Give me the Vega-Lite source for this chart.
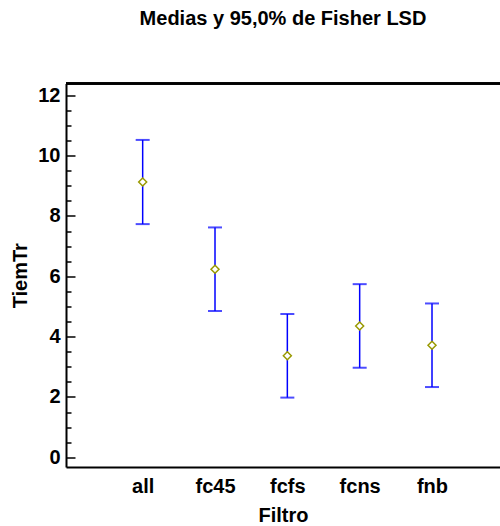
{
  "$schema": "https://vega.github.io/schema/vega-lite/v6.json",
  "width": 434,
  "height": 383.5,
  "autosize": {"type": "none"},
  "padding": {"left": 66, "top": 83.5, "right": 0, "bottom": 59},
  "background": "white",
  "config": {
    "view": {"stroke": null},
    "font": "Liberation Sans",
    "axis": {"labelFont": "Liberation Sans", "titleFont": "Liberation Sans", "labelColor": "black", "titleColor": "black", "labelFontWeight": "bold", "titleFontWeight": "bold", "grid": false}
  },
  "title": {"text": "Medias y 95,0% de Fisher LSD", "font": "Liberation Sans", "fontSize": 20, "fontWeight": "bold", "color": "black", "anchor": "middle", "baseline": "alphabetic", "offset": 37.5},
  "data": {"values": [
    {"Filtro": "all", "mean": 9.125, "lower": 7.73, "upper": 10.52},
    {"Filtro": "fc45", "mean": 6.235, "lower": 4.85, "upper": 7.62},
    {"Filtro": "fcfs", "mean": 3.365, "lower": 1.98, "upper": 4.75},
    {"Filtro": "fcns", "mean": 4.355, "lower": 2.97, "upper": 5.74},
    {"Filtro": "fnb", "mean": 3.715, "lower": 2.33, "upper": 5.1}
  ]},
  "layer": [
    {"mark": {"type": "rule", "color": "#0000ff", "strokeWidth": 1.5},
      "encoding": {
        "x": {"field": "Filtro", "type": "nominal", "sort": null,
          "scale": {"type": "point", "padding": 1.111, "align": 0.53},
          "axis": {"labelAngle": 0, "ticks": false, "domainColor": "black", "domainWidth": 2, "labelFontSize": 20, "labelPadding": 9.5, "titleFontSize": 20, "title": "Filtro", "titlePadding": 9}},
        "y": {"field": "lower", "type": "quantitative",
          "scale": {"domain": [-0.32, 12.39], "nice": false, "zero": false},
          "axis": {"values": [0, 2, 4, 6, 8, 10, 12], "offset": -9, "ticks": true, "tickSize": 9, "tickColor": "black", "tickWidth": 1.5, "domain": false, "labelFontSize": 20, "labelPadding": 6, "title": "TiemTr", "titleFontSize": 20, "titlePadding": 7, "orient": "left"}},
        "y2": {"field": "upper"}
      }},
    {"mark": {"type": "tick", "color": "#0000ff", "thickness": 2, "size": 14},
      "encoding": {
        "x": {"field": "Filtro", "type": "nominal", "sort": null},
        "y": {"field": "upper", "type": "quantitative",
          "axis": {"values": [0.5, 1, 1.5, 2.5, 3, 3.5, 4.5, 5, 5.5, 6.5, 7, 7.5, 8.5, 9, 9.5, 10.5, 11, 11.5], "offset": -5, "ticks": true, "tickSize": 5, "labels": false, "domain": false, "title": null, "orient": "left", "tickColor": "black", "tickWidth": 1.5}}
      }},
    {"mark": {"type": "tick", "color": "#0000ff", "thickness": 2, "size": 14},
      "encoding": {
        "x": {"field": "Filtro", "type": "nominal", "sort": null},
        "y": {"field": "lower", "type": "quantitative",
          "axis": {"ticks": false, "labels": false, "domain": true, "domainColor": "black", "domainWidth": 2, "title": null, "orient": "left"}}}},
    {"mark": {"type": "point", "shape": "diamond", "size": 64, "filled": true, "fill": "white", "stroke": "#999900", "strokeWidth": 1.5, "opacity": 1},
      "encoding": {
        "x": {"field": "Filtro", "type": "nominal", "sort": null},
        "y": {"field": "mean", "type": "quantitative", "axis": null}}},
    {"mark": {"type": "rule", "color": "black", "strokeWidth": 2},
      "encoding": {"y": {"datum": 12.39, "type": "quantitative", "axis": null}}}
  ],
  "resolve": {"axis": {"y": "independent"}}
}
